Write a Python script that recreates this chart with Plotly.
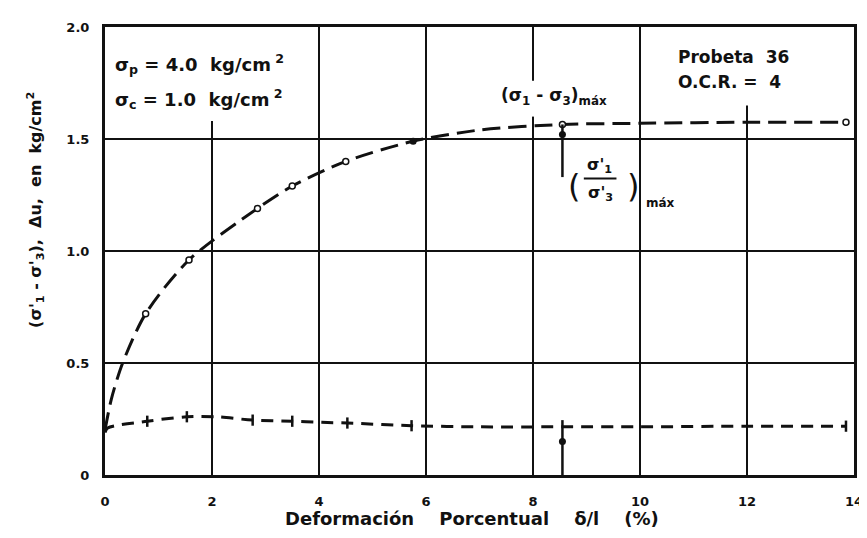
import plotly.graph_objects as go

# --- data ---
# deviator stress curve (sigma1' - sigma3')
dev_x = [0, 0.12, 0.33, 0.76, 1.57, 2.85, 3.5, 4.5, 5.76, 7.0, 8.55, 10.0, 12.0, 13.85]
dev_y = [0.20, 0.34, 0.50, 0.72, 0.96, 1.19, 1.29, 1.40, 1.49, 1.54, 1.565, 1.57, 1.575, 1.575]
dev_open_x = [0.76, 1.57, 2.85, 3.5, 4.5, 8.55, 13.85]
dev_open_y = [0.72, 0.96, 1.19, 1.29, 1.40, 1.565, 1.575]
dev_fill_x = [5.76]
dev_fill_y = [1.49]

# pore pressure curve (delta u)
du_x = [0, 0.05, 0.79, 1.53, 2.08, 2.76, 3.5, 4.05, 4.53, 5.73, 7.0, 8.55, 10.0, 12.0, 13.85]
du_y = [0.19, 0.21, 0.24, 0.26, 0.26, 0.245, 0.24, 0.235, 0.232, 0.22, 0.215, 0.215, 0.215, 0.218, 0.218]
du_mark_x = [0.79, 1.53, 2.76, 3.5, 4.53, 5.73, 13.85]
du_mark_y = [0.24, 0.26, 0.245, 0.24, 0.232, 0.22, 0.218]

# (sigma1'/sigma3') max markers
ratio_x = 8.55
ratio_upper = [1.565, 1.33]
ratio_lower = [0.0, 0.245]
ratio_dot_y = [1.52, 0.15]

x_ticks = [0, 2, 4, 6, 8, 10, 12, 14]
y_ticks = [0, 0.5, 1.0, 1.5, 2.0]
y_labels = ["0", "0.5", "1.0", "1.5", "2.0"]

INK = "#111111"
FONT = "DejaVu Sans"

fig = go.Figure()

fig.add_trace(go.Scatter(
    x=dev_x, y=dev_y, mode="lines", line_shape="spline", line_smoothing=0.8,
    line=dict(color=INK, width=3, dash="18px,8px"), hoverinfo="skip",
))
fig.add_trace(go.Scatter(
    x=du_x, y=du_y, mode="lines", line_shape="spline", line_smoothing=0.8,
    line=dict(color=INK, width=3, dash="12px,8px"), hoverinfo="skip",
))
fig.add_trace(go.Scatter(
    x=dev_open_x, y=dev_open_y, mode="markers",
    marker=dict(symbol="circle", size=6, color="white",
                line=dict(color=INK, width=1.5)),
))
fig.add_trace(go.Scatter(
    x=dev_fill_x, y=dev_fill_y, mode="markers",
    marker=dict(symbol="circle", size=7, color=INK),
))
fig.add_trace(go.Scatter(
    x=du_mark_x, y=du_mark_y, mode="markers",
    marker=dict(symbol="line-ns", size=8, line=dict(color=INK, width=2.5)),
))
# vertical markers for the stress-ratio maximum
for ys in (ratio_upper, ratio_lower):
    fig.add_trace(go.Scatter(
        x=[ratio_x, ratio_x], y=ys, mode="lines",
        line=dict(color=INK, width=2.5), hoverinfo="skip",
    ))
fig.add_trace(go.Scatter(
    x=[ratio_x, ratio_x], y=ratio_dot_y, mode="markers",
    marker=dict(symbol="circle", size=7, color=INK),
))

# white patches where the original grid is interrupted by lettering
for x0, x1, y0, y1 in [(1.8, 2.2, 1.58, 2.0), (11.8, 12.2, 1.65, 2.0), (7.8, 8.2, 1.6, 1.76)]:
    fig.add_shape(type="rect", x0=x0, x1=x1, y0=y0, y1=y1, layer="between",
                  fillcolor="white", line_width=0)

# fraction bar of (sigma1'/sigma3')max
fig.add_shape(type="line", x0=8.95, x1=9.56, y0=1.324, y1=1.324,
              line=dict(color=INK, width=2))

txt = dict(family=FONT, size=18, color=INK)
ann = [
    dict(x=0.15, y=1.834, text="<b>σ<sub>p</sub> = 4.0  kg/cm<sup> 2</sup></b>", xanchor="left"),
    dict(x=0.15, y=1.679, text="<b>σ<sub>c</sub> = 1.0  kg/cm<sup> 2</sup></b>", xanchor="left"),
    dict(x=10.68, y=1.865, text="<b>Probeta  36</b>", xanchor="left",
         font=dict(family=FONT, size=17, color=INK)),
    dict(x=10.68, y=1.754, text="<b>O.C.R. =  4</b>", xanchor="left",
         font=dict(family=FONT, size=17, color=INK)),
    dict(x=7.36, y=1.69, text="<b>(σ<sub>1</sub> - σ<sub>3</sub>)<sub>máx</sub></b>", xanchor="left",
         font=dict(family=FONT, size=17, color=INK)),
    dict(x=8.77, y=1.29, text="(", font=dict(family=FONT, size=32, color=INK)),
    dict(x=9.87, y=1.29, text=")", font=dict(family=FONT, size=32, color=INK)),
    dict(x=9.25, y=1.38, text="<b>σ'<sub>1</sub></b>", font=dict(family=FONT, size=16, color=INK)),
    dict(x=9.27, y=1.255, text="<b>σ'<sub>3</sub></b>", font=dict(family=FONT, size=16, color=INK)),
    dict(x=10.08, y=1.215, text="<b>máx</b>", xanchor="left", font=dict(family=FONT, size=12, color=INK)),
]
for a in ann:
    a.setdefault("font", txt)
    fig.add_annotation(xref="x", yref="y", showarrow=False, **a)

# axis titles
fig.add_annotation(
    xref="paper", yref="paper", x=0.49, y=-0.125, showarrow=False,
    text="<b>Deformación    Porcentual    δ/l    (%)</b>",
    font=dict(family=FONT, size=18, color=INK),
)
fig.add_annotation(
    xref="paper", yref="paper", x=-0.092, y=0.592, showarrow=False, textangle=-90,
    xanchor="center", yanchor="middle",
    text="<b>(σ'<sub>1</sub> - σ'<sub>3</sub>),  Δu,  en  kg/cm<sup>2</sup></b>",
    font=dict(family=FONT, size=16, color=INK),
)

axis = dict(showline=True, linewidth=3, linecolor=INK, mirror=True,
            showgrid=True, gridcolor=INK, gridwidth=1.5, zeroline=False,
            ticks="", tickfont=dict(family=FONT, size=13, color=INK, weight="bold"))
fig.update_layout(
    width=867, height=538,
    margin=dict(l=97, r=12, t=16, b=71),
    paper_bgcolor="white", plot_bgcolor="white",
    showlegend=False,
    xaxis=dict(axis, range=[0, 14], tickvals=x_ticks, ticklabelstandoff=12),
    yaxis=dict(axis, range=[0, 2], tickvals=y_ticks, ticktext=y_labels, ticklabelstandoff=10),
)

fig.write_html("out.html")
